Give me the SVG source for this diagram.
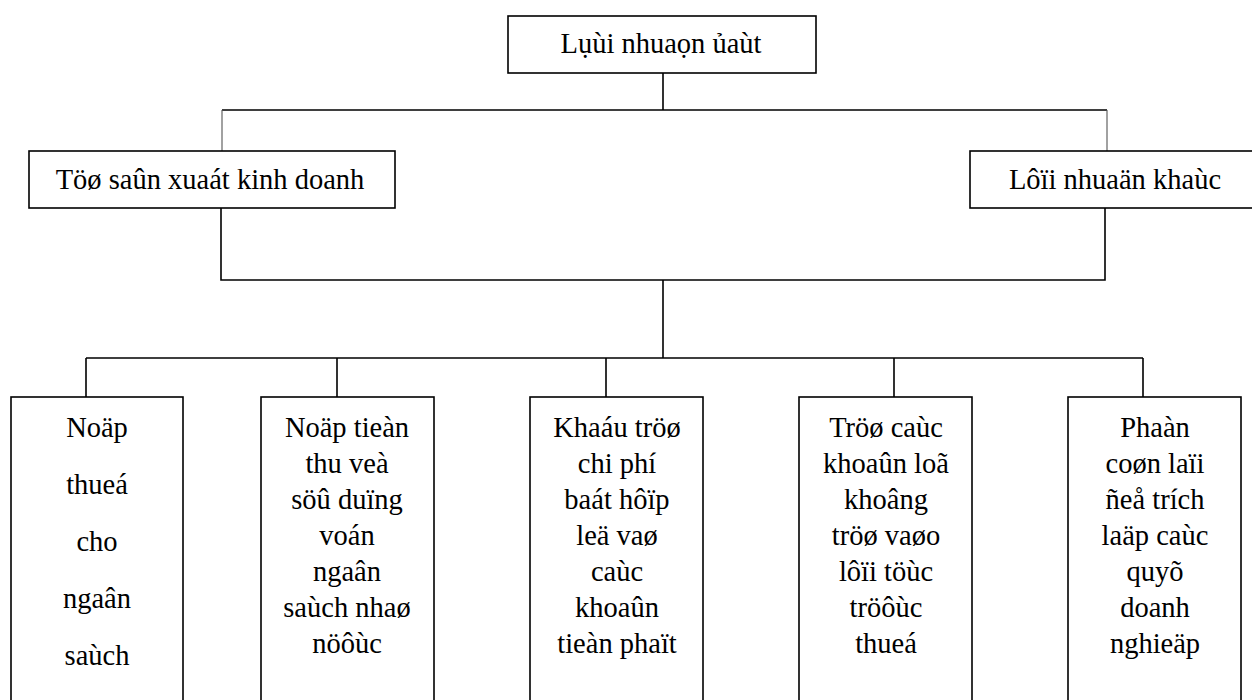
<svg xmlns="http://www.w3.org/2000/svg" width="1252" height="700" viewBox="0 0 1252 700">
<style>
.box{fill:#fff;stroke:#000;stroke-width:1.6}
.ln{fill:none;stroke:#000;stroke-width:1.6}
.thin{fill:none;stroke:#555;stroke-width:1.1}
text{font-size:28.5px;fill:#000;text-anchor:middle}
</style>
<rect width="1252" height="700" fill="#fff"/>
<g id="connectors">
<path class="ln" d="M663 73V110M222 110H1107"/>
<path class="thin" d="M222 110V151M1107 110V151"/>
<path class="ln" d="M221 208V280H1105V208M663 280V358M86 358H1143M86 358V397M337 358V397M606 358V397M894 358V397M1143 358V397"/>
</g>
<g id="n-top" font-family="Liberation Serif"><rect class="box" x="508" y="16" width="308" height="57"/><text x="661" y="53">Lụùi nhuaọn ủaùt</text></g>
<g id="n-left" font-family="Liberation Serif"><rect class="box" x="29" y="151" width="366" height="57"/><text x="210" y="189">Töø saûn xuaát kinh doanh</text></g>
<g id="n-right" font-family="Liberation Serif"><rect class="box" x="970" y="151" width="290" height="57"/><text x="1115" y="189">Lôïi nhuaän khaùc</text></g>
<g id="n-b1" font-family="Liberation Serif"><rect class="box" x="11" y="397" width="172" height="320"/>
<text x="97" y="437">Noäp</text><text x="97" y="494">thueá</text><text x="97" y="551">cho</text><text x="97" y="608">ngaân</text><text x="97" y="665">saùch</text></g>
<g id="n-b2" font-family="Liberation Serif"><rect class="box" x="261" y="397" width="173" height="320"/>
<text x="347" y="437">Noäp tieàn</text><text x="347" y="473">thu veà</text><text x="347" y="509">söû duïng</text><text x="347" y="545">voán</text><text x="347" y="581">ngaân</text><text x="347" y="617">saùch nhaø</text><text x="347" y="653">nöôùc</text></g>
<g id="n-b3" font-family="Liberation Serif"><rect class="box" x="530" y="397" width="173" height="320"/>
<text x="617" y="437">Khaáu tröø</text><text x="617" y="473">chi phí</text><text x="617" y="509">baát hôïp</text><text x="617" y="545">leä vaø</text><text x="617" y="581">caùc</text><text x="617" y="617">khoaûn</text><text x="617" y="653">tieàn phaït</text></g>
<g id="n-b4" font-family="Liberation Serif"><rect class="box" x="799" y="397" width="173" height="320"/>
<text x="886" y="437">Tröø caùc</text><text x="886" y="473">khoaûn loã</text><text x="886" y="509">khoâng</text><text x="886" y="545">tröø vaøo</text><text x="886" y="581">lôïi töùc</text><text x="886" y="617">tröôùc</text><text x="886" y="653">thueá</text></g>
<g id="n-b5" font-family="Liberation Serif"><rect class="box" x="1068" y="397" width="173" height="320"/>
<text x="1155" y="437">Phaàn</text><text x="1155" y="473">coøn laïi</text><text x="1155" y="509">ñeå trích</text><text x="1155" y="545">laäp caùc</text><text x="1155" y="581">quyõ</text><text x="1155" y="617">doanh</text><text x="1155" y="653">nghieäp</text></g>
</svg>
